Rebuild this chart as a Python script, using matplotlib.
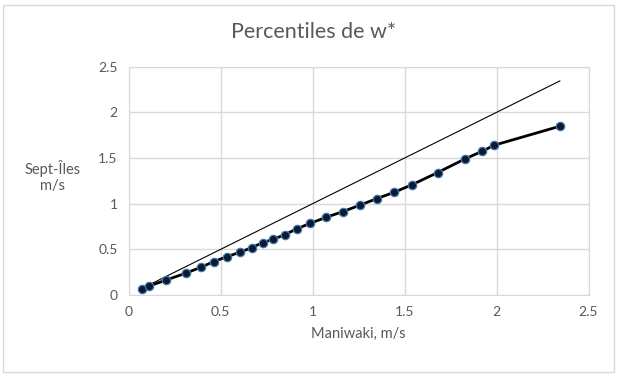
import numpy as np
import matplotlib.pyplot as plt
from matplotlib.patches import Rectangle

maniwaki = [0.074, 0.112, 0.203, 0.31, 0.391, 0.462, 0.534, 0.605, 0.668, 0.728,
            0.786, 0.848, 0.913, 0.987, 1.074, 1.163, 1.255, 1.348, 1.444, 1.541,
            1.679, 1.828, 1.922, 1.987, 2.344]
sept_iles = [0.065, 0.099, 0.164, 0.238, 0.303, 0.365, 0.42, 0.468, 0.518, 0.573,
             0.61, 0.66, 0.723, 0.785, 0.851, 0.912, 0.982, 1.055, 1.125, 1.208,
             1.34, 1.49, 1.574, 1.64, 1.848]
ticks = [0, 0.5, 1, 1.5, 2, 2.5]

plt.rcParams["font.family"] = ["Lato", "DejaVu Sans"]
txt = "#595959"
grid = "#d9d9d9"

fig = plt.figure(figsize=(6.21, 3.77), dpi=100)
fig.patches.append(Rectangle((0.005, 0.013), 0.984, 0.975, transform=fig.transFigure,
                             fill=False, edgecolor=grid, lw=1))
ax = fig.add_axes([0.2072, 0.2175, 0.7405, 0.6056])

one = [min(maniwaki), max(maniwaki)]
ax.plot(one, one, color="black", lw=0.8, zorder=2)
ax.plot(maniwaki, sept_iles, color="black", lw=2, marker="o", markersize=6,
        markerfacecolor="#0b1a33", markeredgecolor="#4575ad", markeredgewidth=0.9,
        zorder=3)

ax.set_xlim(0, 2.5)
ax.set_ylim(0, 2.5)
ax.set_xticks(ticks)
ax.set_yticks(ticks)
ax.set_xticklabels([f"{t:g}" for t in ticks])
ax.set_yticklabels([f"{t:g}" for t in ticks])
ax.grid(True, color=grid, lw=1)
ax.set_axisbelow(True)
for s in ax.spines.values():
    s.set_color(grid)
ax.tick_params(length=0, labelsize=10, colors=txt, pad=8)

ax.set_xlabel("Maniwaki, m/s", fontsize=10.5, color=txt, labelpad=6)
ax.set_ylabel("Sept-Îles\nm/s", fontsize=10.5, color=txt, rotation=0,
              ha="center", va="center", labelpad=0)
ax.yaxis.set_label_coords(-0.165, 0.52)
fig.text(0.505, 0.915, "Percentiles de w*", ha="center", va="center",
         fontsize=15.5, color=txt)

fig.savefig("out.png", dpi=100)
